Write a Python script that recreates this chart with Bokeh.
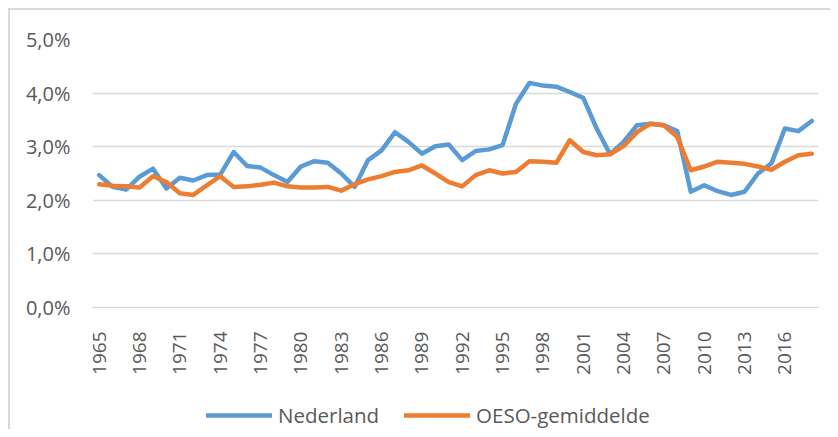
import math
from bokeh.plotting import figure
from bokeh.layouts import column
from bokeh.models import FixedTicker, Legend, LegendItem, Range1d
from bokeh.embed import file_html
from bokeh.resources import INLINE

years = list(range(1965, 2019))
nederland = [2.47, 2.25, 2.20, 2.44, 2.59, 2.22, 2.42, 2.37, 2.47, 2.48,
             2.90, 2.64, 2.61, 2.47, 2.34, 2.63, 2.73, 2.70, 2.50, 2.25,
             2.75, 2.93, 3.27, 3.09, 2.87, 3.01, 3.04, 2.75, 2.92, 2.95,
             3.03, 3.80, 4.19, 4.14, 4.12, 4.02, 3.91, 3.34, 2.86, 3.09,
             3.40, 3.43, 3.40, 3.29, 2.16, 2.28, 2.17, 2.10, 2.16, 2.50,
             2.69, 3.34, 3.29, 3.48]
oeso = [2.30, 2.27, 2.26, 2.24, 2.45, 2.34, 2.13, 2.10, 2.28, 2.45,
        2.25, 2.26, 2.29, 2.33, 2.26, 2.24, 2.24, 2.25, 2.18, 2.30,
        2.39, 2.45, 2.53, 2.56, 2.65, 2.50, 2.34, 2.26, 2.47, 2.56,
        2.50, 2.53, 2.73, 2.72, 2.70, 3.12, 2.90, 2.84, 2.86, 3.01,
        3.27, 3.43, 3.40, 3.18, 2.56, 2.63, 2.72, 2.70, 2.68, 2.63,
        2.57, 2.72, 2.84, 2.87]
x_ticks = list(range(1965, 2017, 3))
y_ticks = [0, 1, 2, 3, 4, 5]
y_tick_labels = ["0,0%", "1,0%", "2,0%", "3,0%", "4,0%", "5,0%"]
series_names = ["Nederland", "OESO-gemiddelde"]
colors = ["#5B9BD5", "#ED7D31"]

FONT = "Open Sans"
TXT = "#595959"
GRID = "#D9D9D9"

p = figure(width=820, height=370, output_backend="svg", toolbar_location=None,
           x_range=Range1d(1964.5, 2018.5), y_range=Range1d(0, 5),
           min_border_left=82, min_border_right=12, min_border_top=29,
           min_border_bottom=73)
p.outline_line_color = None
p.background_fill_color = "white"
p.border_fill_color = "white"

p.line(years, nederland, line_color=colors[0], line_width=4.5,
       line_join="round", line_cap="round")
p.line(years, oeso, line_color=colors[1], line_width=4.5,
       line_join="round", line_cap="round")

p.xgrid.grid_line_color = None
p.ygrid.grid_line_color = GRID
p.ygrid.grid_line_width = 1.5
p.ygrid.ticker = FixedTicker(ticks=y_ticks)

ya = p.yaxis[0]
ya.ticker = FixedTicker(ticks=y_ticks)
ya.major_label_overrides = {t: l for t, l in zip(y_ticks, y_tick_labels)}
ya.axis_line_color = None
ya.major_tick_line_color = None
ya.minor_tick_line_color = None
ya.major_tick_out = 0
ya.major_label_standoff = 22
ya.major_label_text_font = FONT
ya.major_label_text_font_size = "20px"
ya.major_label_text_color = TXT

xa = p.xaxis[0]
xa.ticker = FixedTicker(ticks=x_ticks)
xa.major_label_overrides = {t: str(t) for t in x_ticks}
xa.axis_line_color = GRID
xa.axis_line_width = 1.5
xa.major_tick_line_color = None
xa.minor_tick_line_color = None
xa.major_tick_out = 0
xa.major_label_standoff = 24
xa.major_label_orientation = math.pi / 2
xa.major_label_text_font = FONT
xa.major_label_text_font_size = "19px"
xa.major_label_text_color = TXT

# legend strip (its sample lines use the series data, far outside this strip's ranges)
p2 = figure(width=820, height=49, output_backend="svg", toolbar_location=None,
            x_range=Range1d(0, 1), y_range=Range1d(0, 1),
            x_axis_type=None, y_axis_type=None,
            min_border_left=0, min_border_right=0, min_border_top=0,
            min_border_bottom=0)
p2.outline_line_color = None
p2.xgrid.grid_line_color = None
p2.ygrid.grid_line_color = None
p2.border_fill_color = "white"
l1 = p2.line(years, nederland, line_color=colors[0], line_width=4.5, line_cap="round")
l2 = p2.line(years, oeso, line_color=colors[1], line_width=4.5, line_cap="round")
legend = Legend(items=[LegendItem(label=series_names[0], renderers=[l1]),
                       LegendItem(label=series_names[1], renderers=[l2])],
                orientation="horizontal", location=(114, 0),
                glyph_width=66, glyph_height=20, label_standoff=6,
                spacing=25, padding=0, margin=0,
                border_line_color=None, background_fill_alpha=0,
                label_text_font=FONT, label_text_font_size="20.5px",
                label_text_color=TXT)
p2.add_layout(legend, "center")

layout = column(p, p2, spacing=0,
                styles={"border-left": "2px solid #D9D9D9",
                        "border-top": "2px solid #D9D9D9",
                        "margin-left": "8px", "margin-top": "8px"})

open("out.html", "w").write(file_html(layout, INLINE))
